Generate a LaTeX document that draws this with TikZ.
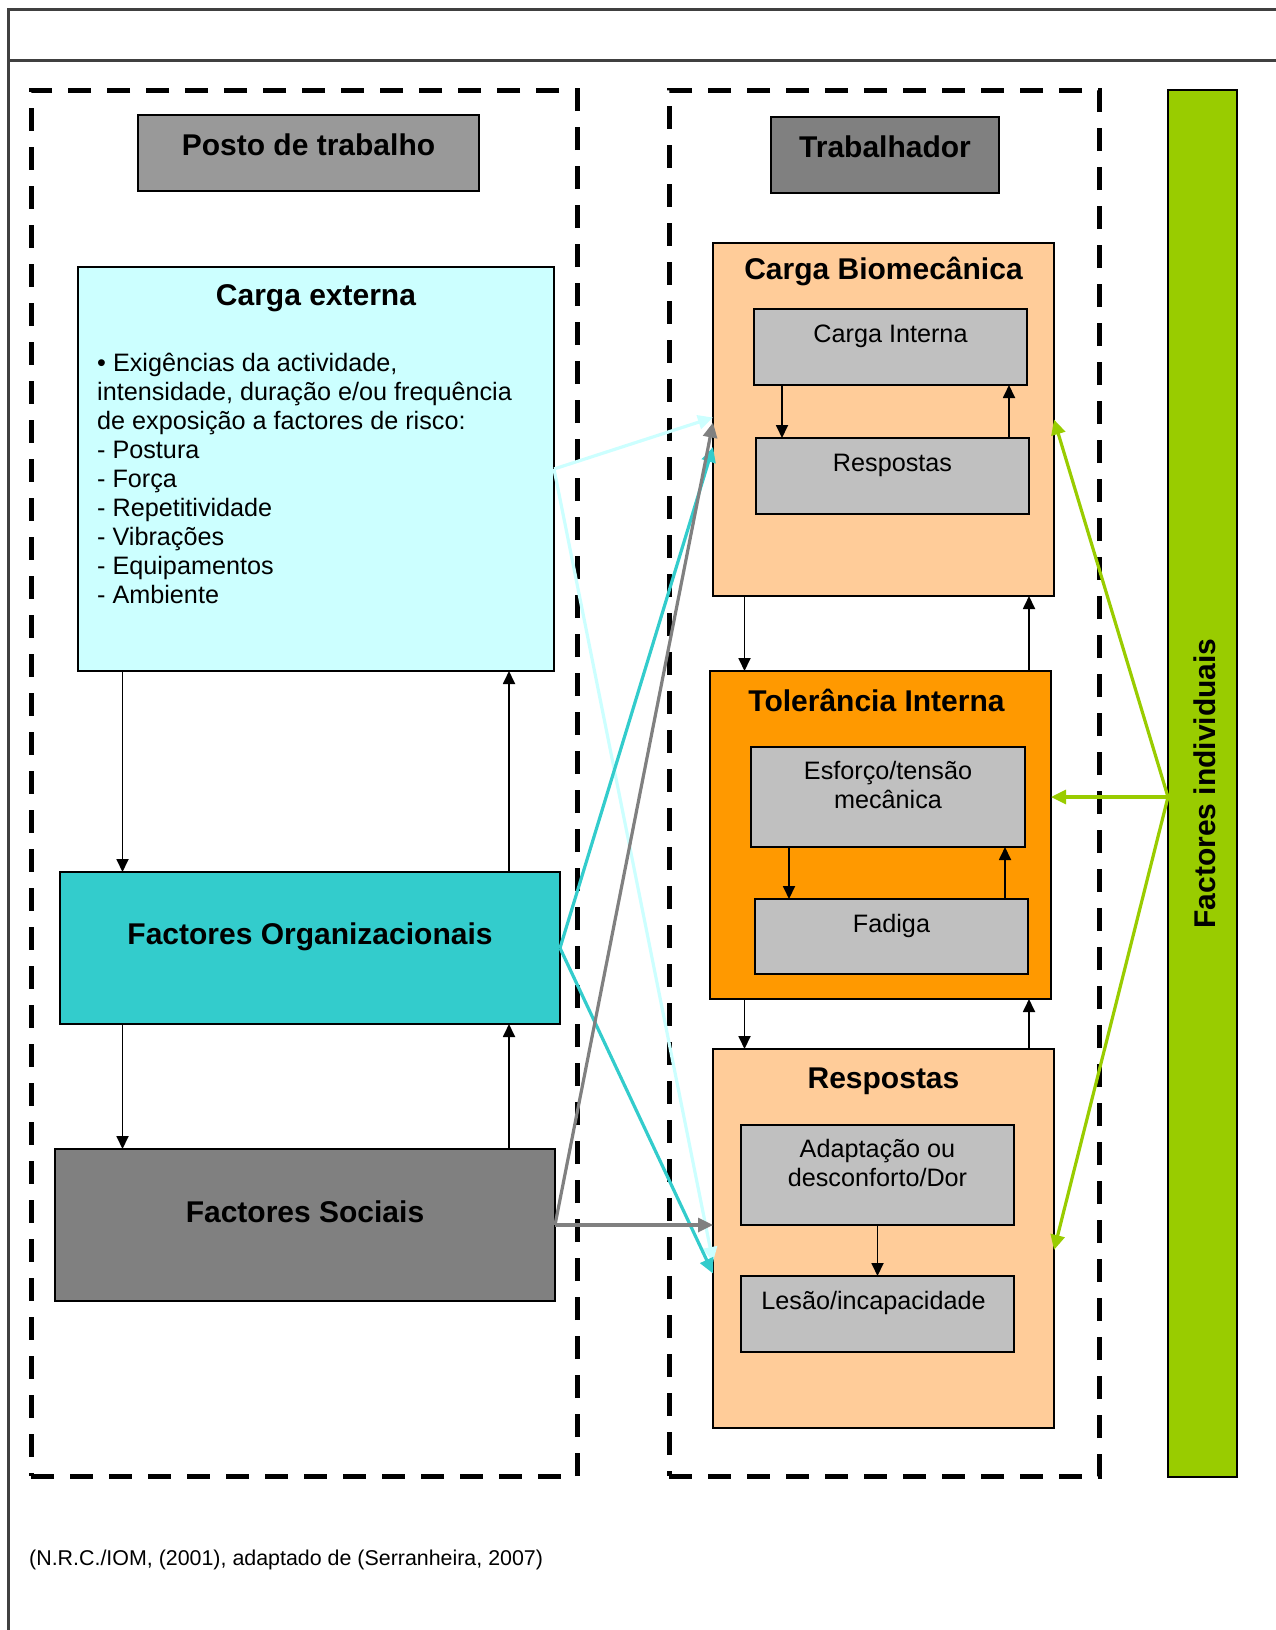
\documentclass[tikz,border=0pt]{standalone}
\usepackage{fontspec}
\setmainfont{Liberation Sans}
\usetikzlibrary{arrows.meta,positioning,calc}

\definecolor{cyanL}{HTML}{CCFFFF}
\definecolor{tealM}{HTML}{33CCCC}
\definecolor{greyD}{HTML}{808080}
\definecolor{greyM}{HTML}{999999}
\definecolor{greyL}{HTML}{C0C0C0}
\definecolor{peach}{HTML}{FFCC99}
\definecolor{orangeM}{HTML}{FF9900}
\definecolor{lime}{HTML}{99CC00}

\begin{document}
\begin{tikzpicture}[x=1pt, y=-1pt,
    box/.style={draw, line width=1.8pt, inner sep=0pt, outer sep=0pt, anchor=north west},
    zone/.style={draw, line width=5pt, dash pattern=on 23pt off 16pt,
                 inner sep=0pt, outer sep=0pt, anchor=north west},
    ttl/.style={font=\fontsize{30}{34}\selectfont\bfseries, inner sep=0pt},
    txt/.style={font=\fontsize{25.2}{29}\selectfont, align=center, inner sep=0pt},
    blk/.style={-{Triangle[length=13pt,width=12pt]}, line width=1.8pt},
    feed/.style={-{Triangle[length=15pt,width=14pt]}, line width=3.2pt, color=#1},
    pageline/.style={line width=3pt, draw=black!75},
    ]
\useasboundingbox (0,0) rectangle (1276,1630);

% ---- page frame ----
\draw[pageline] (8,1640) -- (8,9) -- (1290,9);
\draw[pageline] (8,60) -- (1290,60);

% ---- dashed zones ----
\node[zone, minimum width=546pt, minimum height=1386pt] (postozone) at (31,90) {};
\node[zone, minimum width=430pt, minimum height=1386pt] (trabzone) at (669,90) {};

% ---- Posto de trabalho ----
\node[box, fill=greyM, minimum width=341pt, minimum height=76pt] (posto) at (138,115) {};
\node[ttl] (postoT) at ([yshift=8pt]posto.center) {Posto de trabalho};
\node[box, fill=cyanL, minimum width=476pt, minimum height=404pt] (extern) at (78,267) {};
\node[ttl] (externT) at ([yshift=-31pt]extern.north) {Carga externa};
\node[txt, align=left, anchor=north west] (externB) at (97,353)
     {• Exigências da actividade,\\intensidade, duração e/ou frequência\\de exposição a factores de risco:\\- Postura\\- Força\\- Repetitividade\\- Vibrações\\- Equipamentos\\- Ambiente};
\node[box, fill=tealM, minimum width=500pt, minimum height=152pt] (org) at (60,872) {};
\node[ttl] (orgT) at ([yshift=11pt]org.center) {Factores Organizacionais};
\node[box, fill=greyD, minimum width=500pt, minimum height=152pt] (soc) at (55,1149) {};
\node[ttl] (socT) at ([yshift=13pt]soc.center) {Factores Sociais};

% ---- Trabalhador ----
\node[box, fill=greyD, minimum width=228pt, minimum height=76pt] (trab) at (771,117) {};
\node[ttl] (trabT) at ([yshift=8pt]trab.center) {Trabalhador};

\node[box, fill=peach, minimum width=341pt, minimum height=353pt] (bio) at (713,243) {};
\node[ttl] (bioT) at ([yshift=-28pt]bio.north) {Carga Biomecânica};
\node[box, fill=greyL, minimum width=273pt, minimum height=76pt] (cint) at (754,309) {};
\node[txt] (cintT) at ([yshift=-27pt]cint.north) {Carga Interna};
\node[box, fill=greyL, minimum width=273pt, minimum height=76pt] (bresp) at (756,438) {};
\node[txt] (brespT) at ([yshift=-27pt]bresp.north) {Respostas};

\node[box, fill=orangeM, minimum width=341pt, minimum height=328pt] (tol) at (710,671) {};
\node[ttl] (tolT) at ([xshift=-4pt,yshift=-29pt]tol.north) {Tolerância Interna};
\node[box, fill=greyL, minimum width=274pt, minimum height=100pt] (esf) at (751,747) {};
\node[txt] (esfT) at ([yshift=-38pt]esf.north) {Esforço/tensão\\mecânica};
\node[box, fill=greyL, minimum width=273pt, minimum height=75pt] (fad) at (755,899) {};
\node[txt] (fadT) at ([yshift=-27pt]fad.north) {Fadiga};

\node[box, fill=peach, minimum width=341pt, minimum height=379pt] (resp) at (713,1049) {};
\node[ttl] (respT) at ([yshift=-32pt]resp.north) {Respostas};
\node[box, fill=greyL, minimum width=273pt, minimum height=100pt] (adapt) at (741,1125) {};
\node[txt] (adaptT) at ([yshift=-38pt]adapt.north) {Adaptação ou\\desconforto/Dor};
\node[box, fill=greyL, minimum width=273pt, minimum height=76pt] (lesao) at (741,1276) {};
\node[txt] (lesaoT) at ([xshift=-4pt,yshift=-27pt]lesao.north) {Lesão/incapacidade};

% ---- Factores individuais ----
\node[box, fill=lime, minimum width=69pt, minimum height=1387pt] (indiv) at (1168,90) {};
\node[ttl, rotate=90] (indivT) at ([xshift=2pt]indiv.center) {Factores individuais};

% ---- source ----
\node[font=\fontsize{21.4}{25}\selectfont, anchor=west, inner sep=0pt] (src) at (29,1560)
     {(N.R.C./IOM, (2001), adaptado de (Serranheira, 2007)};

% ---- black arrows ----
\coordinate (xa) at (122.5,0);
\coordinate (xb) at (509,0);
\coordinate (xc) at (744.5,0);
\coordinate (xd) at (1029,0);
\coordinate (xe) at (782,0);
\coordinate (xf) at (1009,0);
\coordinate (xg) at (789,0);
\coordinate (xh) at (1005,0);
\draw[blk] (extern.south -| xa) -- (org.north -| xa);
\draw[blk] (org.north -| xb) -- (extern.south -| xb);
\draw[blk] (org.south -| xa) -- (soc.north -| xa);
\draw[blk] (soc.north -| xb) -- (org.south -| xb);
\draw[blk] (bio.south -| xc) -- (tol.north -| xc);
\draw[blk] (tol.north -| xd) -- (bio.south -| xd);
\draw[blk] (tol.south -| xc) -- (resp.north -| xc);
\draw[blk] (resp.north -| xd) -- (tol.south -| xd);
\draw[blk] (cint.south -| xe) -- (bresp.north -| xe);
\draw[blk] (bresp.north -| xf) -- (cint.south -| xf);
\draw[blk] (esf.south -| xg) -- (fad.north -| xg);
\draw[blk] (fad.north -| xh) -- (esf.south -| xh);
\draw[blk] (adapt.south) -- (lesao.north);

% ---- coloured arrows ----
\draw[feed=cyanL] (extern.east) -- ([yshift=2pt]bio.west);
\draw[feed=cyanL] (extern.east) -- ([yshift=-23.5pt]resp.west);
\draw[feed=tealM] (org.east) -- ([yshift=-27.5pt]bio.west);
\draw[feed=tealM] (org.east) -- ([yshift=-35pt]resp.west);
\draw[feed=greyD] (soc.east) -- ([yshift=-3pt]bio.west);
\draw[feed=greyD] (soc.east) -- (soc.east -| resp.west);
\coordinate (gsrc) at ([yshift=-13.5pt]indiv.west);
\draw[feed=lime] (gsrc) -- (bio.east);
\draw[feed=lime] (gsrc) -- (gsrc -| tol.east);
\draw[feed=lime] (gsrc) -- ([yshift=-11.5pt]resp.east);
\end{tikzpicture}
\end{document}
